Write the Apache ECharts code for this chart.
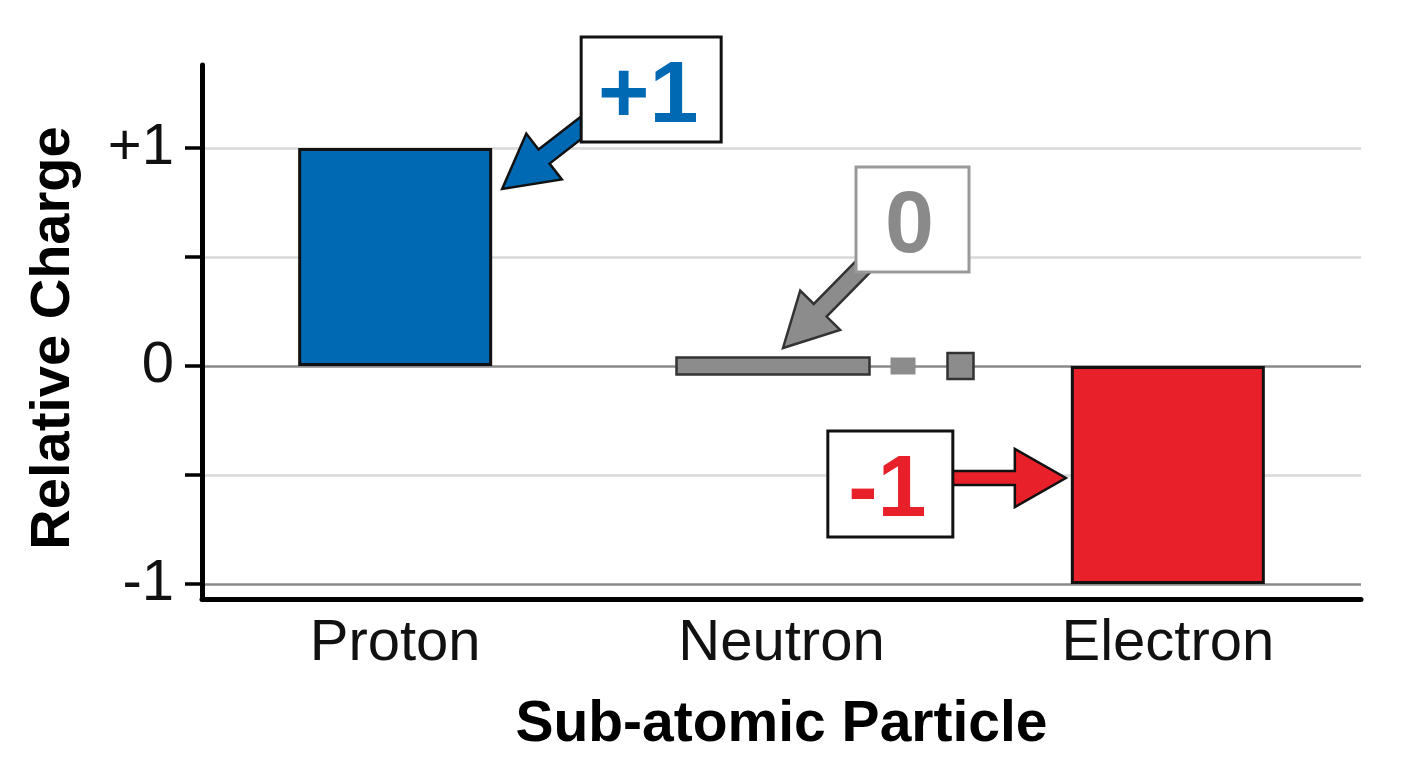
<!DOCTYPE html>
<html>
<head>
<meta charset="utf-8">
<script src="https://cdn.jsdelivr.net/npm/echarts@6/dist/echarts.min.js"></script>
<style>
  html, body { margin: 0; padding: 0; background: #fff; }
  #chart { width: 1408px; height: 768px; }
</style>
</head>
<body>
<div id="chart"></div>
<script>
const categories = ['Proton', 'Neutron', 'Electron'];
const charges = [1, 0, -1];
const chargeLabels = ['+1', '0', '-1'];
const yTickValues = [-1, -0.5, 0, 0.5, 1];
const yTickLabels = ['-1', '', '0', '', '+1'];

const FONT = '"Liberation Sans", Arial, Helvetica, sans-serif';
const BLUE = '#0069b4';
const GRAY = '#8c8c8c';
const RED = '#e8202a';
const barColors = [BLUE, GRAY, RED];

const chartDom = document.getElementById('chart');
const myChart = echarts.init(chartDom);

// annotation layout, offsets in px from the bar's (category, charge) point
const annotationLayout = [
    { tip: [107, 41], tail: [205, -35], box: [186, -111, 140, 105], shaft: 9, headLen: 53, headHalf: 29,
      fill: BLUE, stroke: '#111', boxStroke: '#111', text: BLUE },
    { tip: [1.5, -18], tail: [96, -114], box: [74.5, -199, 113, 105], shaft: 9, headLen: 53, headHalf: 28,
      fill: GRAY, stroke: '#333', boxStroke: '#999', text: '#8a8a8a' },
    { tip: [-102, -106], tail: [-228, -106], box: [-340, -153, 125, 106], shaft: 7, headLen: 51, headHalf: 29,
      fill: RED, stroke: '#111', boxStroke: '#111', text: RED }
];

function arrowPoints(tail, tip, sh, hl, hh) {
    const dx = tip[0] - tail[0];
    const dy = tip[1] - tail[1];
    const len = Math.sqrt(dx * dx + dy * dy);
    const ux = dx / len, uy = dy / len;
    const px = -uy, py = ux;
    const bx = tip[0] - ux * hl, by = tip[1] - uy * hl;
    return [
        [tail[0] + px * sh, tail[1] + py * sh],
        [bx + px * sh, by + py * sh],
        [bx + px * hh, by + py * hh],
        tip,
        [bx - px * hh, by - py * hh],
        [bx - px * sh, by - py * sh],
        [tail[0] - px * sh, tail[1] - py * sh]
    ];
}

function renderAnnotation(params, api) {
    const i = params.dataIndex;
    const lay = annotationLayout[i];
    const p = api.coord([api.value(0), api.value(1)]);
    const tip = [p[0] + lay.tip[0], p[1] + lay.tip[1]];
    const tail = [p[0] + lay.tail[0], p[1] + lay.tail[1]];
    const bx = p[0] + lay.box[0], by = p[1] + lay.box[1];
    return {
        type: 'group',
        children: [
            {
                type: 'polygon',
                shape: { points: arrowPoints(tail, tip, lay.shaft, lay.headLen, lay.headHalf) },
                style: { fill: lay.fill, stroke: lay.stroke, lineWidth: 2.5, lineJoin: 'miter' }
            },
            {
                type: 'rect',
                shape: { x: bx, y: by, width: lay.box[2], height: lay.box[3] },
                style: { fill: '#fff', stroke: lay.boxStroke, lineWidth: 3 }
            },
            {
                type: 'text',
                style: {
                    x: bx + lay.box[2] / 2 - 3,
                    y: by + lay.box[3] / 2 + 8,
                    text: chargeLabels[i],
                    fill: lay.text,
                    font: 'bold 88px ' + FONT,
                    align: 'center',
                    verticalAlign: 'middle'
                }
            }
        ]
    };
}

// zero charge: a flat marker on the zero line with a broken tail
function renderZeroMarker(params, api) {
    const p = api.coord([api.value(0), api.value(1)]);
    const pieces = [
        { dx: -105, w: 193, h: 17, border: true },
        { dx: 109, w: 25, h: 17, border: false },
        { dx: 166, w: 26, h: 26, border: true }
    ];
    return {
        type: 'group',
        children: pieces.map(function (pc) {
            return {
                type: 'rect',
                shape: { x: p[0] + pc.dx, y: p[1] - pc.h / 2, width: pc.w, height: pc.h },
                style: pc.border
                    ? { fill: GRAY, stroke: '#333', lineWidth: 2.5 }
                    : { fill: GRAY }
            };
        })
    };
}

const option = {
    animation: false,
    backgroundColor: '#fff',
    grid: [
        { left: 202, right: 47, top: 65, bottom: 169 },
        { left: 202, right: 47, top: 148, bottom: 184 }
    ],
    xAxis: [
        {
            type: 'category',
            gridIndex: 0,
            data: categories,
            axisLine: { lineStyle: { color: '#000', width: 5 } },
            axisTick: { alignWithLabel: true, length: 17, lineStyle: { color: '#000', width: 3 } },
            axisLabel: { fontSize: 58, fontFamily: FONT, color: '#111', margin: 16 },
            name: 'Sub-atomic Particle',
            nameLocation: 'middle',
            nameGap: 98,
            nameTextStyle: { fontSize: 57, fontWeight: 'bold', fontFamily: FONT, color: '#000' }
        },
        {
            type: 'category',
            gridIndex: 1,
            data: categories,
            show: false
        }
    ],
    yAxis: [
        {
            type: 'value',
            gridIndex: 0,
            min: 0,
            max: 1,
            axisLine: { show: true, lineStyle: { color: '#000', width: 5 } },
            axisTick: { show: false },
            axisLabel: { show: false },
            splitLine: { show: false },
            name: 'Relative Charge',
            nameLocation: 'middle',
            nameGap: 120,
            nameTextStyle: { fontSize: 56, fontWeight: 'bold', fontFamily: FONT, color: '#000', padding: [0, 12, 0, 0] }
        },
        {
            type: 'value',
            gridIndex: 1,
            min: -1,
            max: 1,
            interval: 0.5,
            axisLine: { show: false },
            axisTick: { show: true, length: 17, lineStyle: { color: '#000', width: 3.5 } },
            axisLabel: {
                fontSize: 58,
                fontFamily: FONT,
                color: '#111',
                margin: 28,
                formatter: function (value) {
                    const idx = yTickValues.indexOf(value);
                    return idx >= 0 ? yTickLabels[idx] : '';
                }
            },
            splitLine: {
                show: true,
                lineStyle: {
                    color: ['#8a8a8a', '#d9d9d9', '#8a8a8a', '#d9d9d9', '#d9d9d9'],
                    width: 2.5
                }
            }
        }
    ],
    series: [
        {
            type: 'bar',
            xAxisIndex: 1,
            yAxisIndex: 1,
            barWidth: 194,
            data: charges.map(function (v, i) {
                if (v === 0) {
                    return { value: v, itemStyle: { opacity: 0 } };
                }
                return { value: v, itemStyle: { color: barColors[i], borderColor: '#111', borderWidth: 3 } };
            })
        },
        {
            type: 'custom',
            xAxisIndex: 1,
            yAxisIndex: 1,
            z: 3,
            clip: false,
            renderItem: renderZeroMarker,
            data: charges
                .map(function (v, i) { return [i, v]; })
                .filter(function (d) { return d[1] === 0; })
        },
        {
            type: 'custom',
            xAxisIndex: 1,
            yAxisIndex: 1,
            z: 5,
            clip: false,
            renderItem: renderAnnotation,
            data: charges.map(function (v, i) { return [i, v]; })
        }
    ]
};

myChart.setOption(option);
</script>
</body>
</html>
